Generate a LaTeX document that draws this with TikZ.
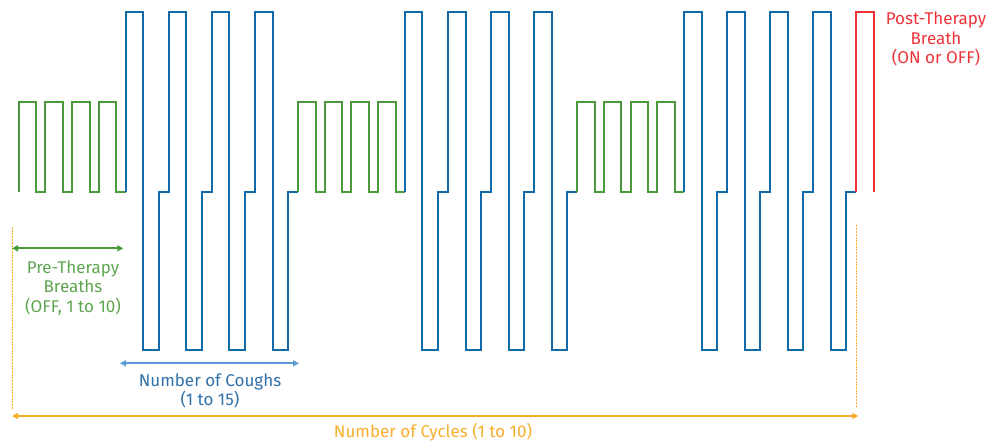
\documentclass[tikz,border=0pt]{standalone}
\usepackage{fontspec}
\setmainfont{Fira Sans}
\usetikzlibrary{arrows.meta}
\definecolor{wgreen}{HTML}{4A9A3C}
\definecolor{tgreen}{HTML}{5FA54F}
\definecolor{wblue}{HTML}{0E6BA8}
\definecolor{ablue}{HTML}{5B9BD5}
\definecolor{tblue}{HTML}{2F70A8}
\definecolor{wred}{HTML}{EE3338}
\definecolor{worange}{HTML}{F8AE2A}
\tikzset{
  wave/.style={line width=2pt, line join=miter},
  gwave/.style={wave, wgreen},
  bwave/.style={wave, wblue},
  rwave/.style={wave, wred},
  dimarrow/.style={line width=1.8pt, {Triangle[length=6pt,width=6pt]}-{Triangle[length=6pt,width=6pt]}},
  guide/.style={worange, line width=1pt, dash pattern=on 2pt off 1pt},
  lbl/.style={font=\fontsize{17}{19.6}\selectfont, align=center, inner sep=0pt}
}
\begin{document}
\begin{tikzpicture}[x=1pt,y=-1pt]
\useasboundingbox (0,0) rectangle (1001,441);
% waveform cycles
\foreach \k in {0,1,2}{
  \pgfmathsetmacro{\s}{18.7+279.2*\k}
  \pgfmathsetmacro{\b}{\s+106.8}
  \draw[gwave] (\s,192) \foreach \i in {0,1,2,3}{ -- ++(0,-90.3) -- ++(17.6,0) -- ++(0,90.3) -- ++(9.1,0) };
  \draw[bwave] (\b,192) \foreach \j in {0,1,2,3}{ -- ++(0,-180.3) -- ++(17.7,0) -- ++(0,338.3) -- ++(15.3,0) -- ++(0,-158) -- ++(10.1,0) };
}
\draw[rwave] (856.3,192) -- ++(0,-180.3) -- ++(17.3,0) -- ++(0,180.3);
% guides
\coordinate (gl1) at (12,226.7);
\coordinate (gl2) at (12,409);
\coordinate (gr1) at (856,225);
\coordinate (gr2) at (856,407);
\draw[guide] (gl1) -- (gl2);
\draw[guide] (gr1) -- (gr2);
% dimension arrows
\coordinate (pa) at (12,248.3);
\coordinate (pb) at (123.3,248.3);
\draw[dimarrow, wgreen] (pa) -- (pb);
\coordinate (ca) at (120,363.3);
\coordinate (cb) at (299,363.3);
\draw[dimarrow, ablue] (ca) -- (cb);
\coordinate (ya) at (12,416);
\coordinate (yb) at (858.3,416);
\draw[dimarrow, worange] (ya) -- (yb);
% labels
\node[lbl, tgreen] (pre) at (73,288) {Pre-Therapy\\Breaths\\(OFF, 1 to 10)};
\node[lbl, tblue] (cough) at (210,391) {Number of Coughs\\(1 to 15)};
\node[lbl, wred] (post) at (936,39) {Post-Therapy\\Breath\\(ON or OFF)};
\node[lbl, worange] (cyc) at (433,432) {Number of Cycles (1 to 10)};
\end{tikzpicture}
\end{document}
